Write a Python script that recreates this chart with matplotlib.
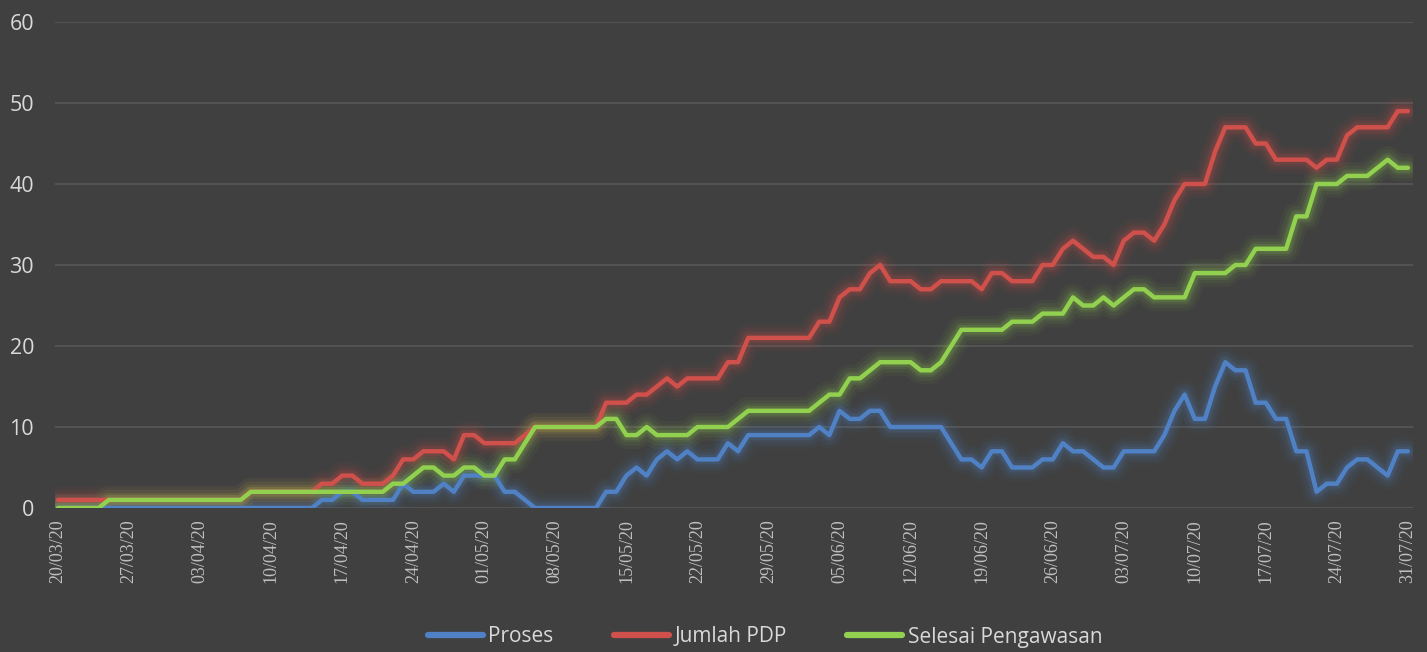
import matplotlib
matplotlib.use("Agg")
import matplotlib.pyplot as plt
import numpy as np
import pandas as pd

# ---- data -------------------------------------------------------------
dates = pd.date_range("2020-03-20", "2020-07-31", freq="D")

proses = ([0] * 26
          + [1, 1, 2, 2, 1, 1, 1, 1]
          + [3, 2, 2, 2, 3, 2, 4, 4, 4, 4, 2, 2, 1]
          + [0] * 7
          + [2, 2, 4, 5, 4, 6, 7, 6, 7, 6, 6, 6, 8, 7]
          + [9] * 7
          + [10, 9, 12, 11, 11, 12, 12]
          + [10] * 6
          + [8, 6, 6, 5, 7, 7, 5, 5, 5, 6, 6]
          + [8, 7, 7, 6, 5, 5, 7, 7, 7, 7, 9, 12, 14]
          + [11, 11, 15, 18, 17, 17, 13, 13, 11, 11, 7, 7]
          + [2, 3, 3, 5, 6, 6, 5, 4, 7, 7])

jumlah_pdp = ([1] * 19
              + [2] * 7
              + [3, 3, 4, 4, 3, 3, 3, 4, 6, 6, 7, 7, 7, 6, 9, 9, 8, 8, 8, 8, 9]
              + [10] * 7
              + [13, 13, 13, 14, 14, 15, 16, 15, 16, 16, 16, 16, 18, 18]
              + [21] * 7
              + [23, 23, 26, 27, 27, 29, 30, 28, 28, 28, 27, 27, 28, 28, 28, 28,
                 27, 29, 29, 28, 28, 28, 30, 30]
              + [32, 33, 32, 31, 31, 30, 33, 34, 34, 33, 35, 38, 40]
              + [40, 40, 44, 47, 47, 47, 45, 45, 43, 43, 43, 43]
              + [42, 43, 43, 46, 47, 47, 47, 47, 49, 49])

selesai = ([0] * 5
           + [1] * 14
           + [2] * 14
           + [3, 3, 4, 5, 5, 4, 4, 5, 5, 4, 4, 6, 6, 8]
           + [10] * 7
           + [11, 11, 9, 9, 10, 9, 9, 9, 9, 10, 10, 10, 10, 11]
           + [12] * 7
           + [13, 14, 14, 16, 16, 17, 18, 18, 18, 18, 17, 17, 18, 20, 22, 22,
              22, 22, 22, 23, 23, 23, 24, 24]
           + [24, 26, 25, 25, 26, 25, 26, 27, 27, 26, 26, 26, 26]
           + [29, 29, 29, 29, 30, 30, 32, 32, 32, 32, 36, 36]
           + [40, 40, 40, 41, 41, 41, 42, 43, 42, 42])

series_names = ["Proses", "Jumlah PDP", "Selesai Pengawasan"]
series_values = [proses, jumlah_pdp, selesai]
series_colors = ["#4F81C4", "#D0504B", "#92D050"]

tick_labels = ["20/03/20", "27/03/20", "03/04/20", "10/04/20", "17/04/20",
               "24/04/20", "01/05/20", "08/05/20", "15/05/20", "22/05/20",
               "29/05/20", "05/06/20", "12/06/20", "19/06/20", "26/06/20",
               "03/07/20", "10/07/20", "17/07/20", "24/07/20", "31/07/20"]
y_ticks = [0, 10, 20, 30, 40, 50, 60]

# ---- figure -----------------------------------------------------------
BG = "#404040"
fig = plt.figure(figsize=(14.27, 6.52), dpi=100, facecolor=BG)
ax = fig.add_axes([55 / 1427, (652 - 508) / 652, 1358 / 1427, 486 / 652])
ax.set_facecolor(BG)

x = np.arange(len(dates))
for name, vals, col in zip(series_names, series_values, series_colors):
    # soft glow underneath
    for lw, a in [(20, 0.05), (15, 0.07), (10, 0.10), (7, 0.14)]:
        ax.plot(x, vals, color=col, lw=lw, alpha=a, solid_joinstyle="round",
                solid_capstyle="round", zorder=2)
    ax.plot(x, vals, color=col, lw=3.2, solid_joinstyle="round",
            solid_capstyle="round", label=name, zorder=3)

ax.set_xlim(-0.3, 133.5)
ax.set_ylim(0, 60)
ax.set_yticks(y_ticks)
ax.grid(axis="y", color="#575757", lw=1.2, zorder=0)
ax.set_axisbelow(True)
for s in ax.spines.values():
    s.set_visible(False)

tick_pos = x[::7]
ax.set_xticks(tick_pos)
ax.set_xticklabels(tick_labels, rotation=90, fontsize=13,
                   family="Liberation Serif", color="#bfbfbf")
ax.tick_params(axis="x", length=0, pad=8)
ax.tick_params(axis="y", length=0, pad=15, labelsize=15.5, labelcolor="#d9d9d9")
for t in ax.get_yticklabels():
    t.set_family("Open Sans")

leg = fig.legend(loc="center", bbox_to_anchor=(765 / 1427, 15 / 652),
                 ncol=3, frameon=False, handlelength=2.65,
                 handletextpad=0.25, columnspacing=2.9,
                 prop={"family": "Open Sans", "size": 15})
for t in leg.get_texts():
    t.set_color("#d9d9d9")
for h in leg.get_lines():
    h.set_linewidth(4.5)
    h.set_solid_capstyle("round")

fig.savefig("out.png", dpi=100, facecolor=BG)
